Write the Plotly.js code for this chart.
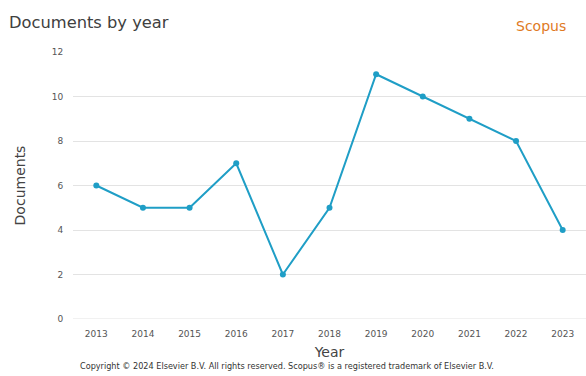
<!DOCTYPE html>
<html><head><meta charset="utf-8">
<script src="https://cdn.plot.ly/plotly-3.0.1.min.js"></script>
<style>html,body{margin:0;padding:0;background:#fff}#c{width:586px;height:376px}</style>
</head><body><div id="c"></div>
<script>
const years = [2013,2014,2015,2016,2017,2018,2019,2020,2021,2022,2023];
const documents = [6,5,5,7,2,5,11,10,9,8,4];
const yTicks = [0,2,4,6,8,10,12];

const trace = {
  x: years, y: documents, type: 'scatter', mode: 'lines+markers',
  line: {color: '#1f9ec6', width: 2},
  marker: {color: '#1f9ec6', size: 6},
  hoverinfo: 'none'
};
const layout = {
  width: 586, height: 376,
  margin: {l: 73, r: 0, t: 52, b: 57},
  paper_bgcolor: '#fff', plot_bgcolor: '#fff',
  font: {family: 'DejaVu Sans, sans-serif', color: '#444'},
  showlegend: false,
  xaxis: {
    range: [2012.5, 2023.5], tickvals: years, ticktext: years.map(String),
    showgrid: false, zeroline: false, showline: false,
    ticks: 'outside', ticklen: 6, tickcolor: 'rgba(0,0,0,0)',
    tickfont: {size: 9, color: '#555'},
    title: {text: 'Year', font: {size: 14, color: '#444'}, standoff: 9}
  },
  yaxis: {
    range: [0, 12], tickvals: yTicks, showgrid: true, gridcolor: '#e3e3e3', gridwidth: 1,
    zeroline: false, showline: false,
    ticks: 'outside', ticklen: 7, tickcolor: 'rgba(0,0,0,0)',
    tickfont: {size: 9, color: '#555'},
    title: {text: 'Documents', font: {size: 14, color: '#444'}, standoff: 22}
  },
  shapes: [
    {type: 'line', xref: 'paper', yref: 'y', x0: 0, x1: 1, y0: 0, y1: 0, line: {color: '#e3e3e3', width: 1}, layer: 'below'}
  ],
  annotations: [
    {text: 'Documents by year', xref: 'paper', yref: 'paper', x: 0, y: 1, xanchor: 'left', yanchor: 'middle',
     xshift: -66, yshift: 30, showarrow: false, font: {size: 16.3, color: '#404040'}},
    {text: 'Scopus', xref: 'paper', yref: 'paper', x: 1, y: 1, xanchor: 'right', yanchor: 'middle',
     xshift: -18, yshift: 26, showarrow: false, font: {size: 14, color: '#e07a1f'}},
    {text: 'Copyright \u00a9 2024 Elsevier B.V. All rights reserved. Scopus\u00ae is a registered trademark of Elsevier B.V.',
     xref: 'paper', yref: 'paper', x: 0, y: 0, xanchor: 'left', yanchor: 'middle',
     xshift: 5, yshift: -47, showarrow: false, font: {size: 8.15, color: '#333'}}
  ]
};
Plotly.newPlot('c', [trace], layout, {displayModeBar: false, staticPlot: true});
</script></body></html>
